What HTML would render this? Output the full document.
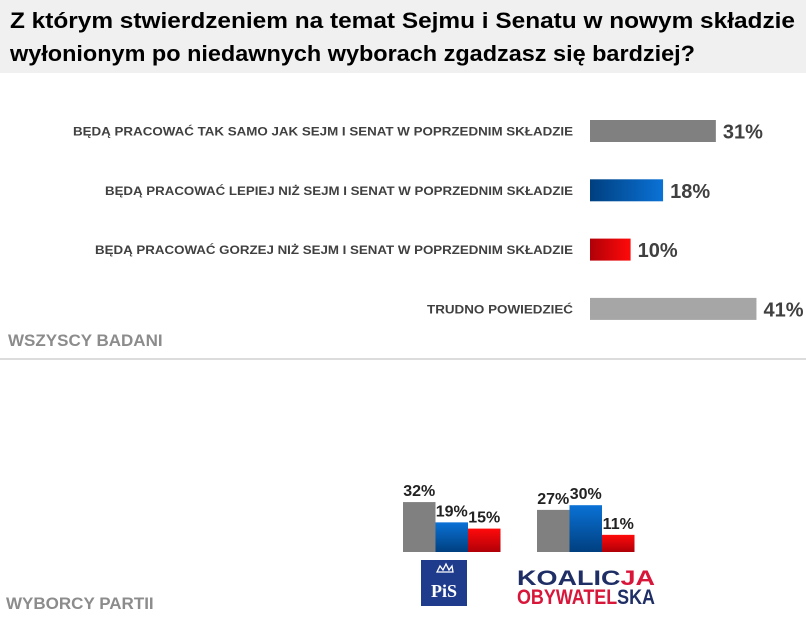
<!DOCTYPE html>
<html><head><meta charset="utf-8"><style>
html,body{margin:0;padding:0;background:#fff;}
svg{display:block;font-family:"Liberation Sans",sans-serif;}
</style></head><body>
<svg id="chart" width="806" height="618" viewBox="0 0 806 618" xmlns="http://www.w3.org/2000/svg">
<defs>
<linearGradient id="gBlue" x1="0" x2="1" y1="0" y2="0"><stop offset="0" stop-color="#003f7f"/><stop offset="1" stop-color="#0a72d6"/></linearGradient>
<linearGradient id="gRed" x1="0" x2="1" y1="0" y2="0"><stop offset="0" stop-color="#b00008"/><stop offset="1" stop-color="#ff0a0a"/></linearGradient>
<linearGradient id="gBlueV" x1="0" x2="0" y1="0" y2="1"><stop offset="0" stop-color="#0a72d6"/><stop offset="1" stop-color="#003f7f"/></linearGradient>
<linearGradient id="gRedV" x1="0" x2="0" y1="0" y2="1"><stop offset="0" stop-color="#ff0a0a"/><stop offset="1" stop-color="#b00008"/></linearGradient>
</defs>
<rect x="0" y="0" width="806" height="73" fill="#f0f0f0"/>
<text x="10" y="28" font-size="22" font-weight="bold" fill="#000" textLength="785" lengthAdjust="spacingAndGlyphs">Z którym stwierdzeniem na temat Sejmu i Senatu w nowym składzie</text>
<text x="10" y="61" font-size="22" font-weight="bold" fill="#000" textLength="685" lengthAdjust="spacingAndGlyphs">wyłonionym po niedawnych wyborach zgadzasz się bardziej?</text>
<g id="main"></g>
<text x="8" y="346" font-size="17" font-weight="bold" fill="#8c8c8c">WSZYSCY BADANI</text>
<line x1="0" y1="359" x2="806" y2="359" stroke="#d0d0d0" stroke-width="1.5"/>
<text x="6" y="609" font-size="17" font-weight="bold" fill="#8c8c8c">WYBORCY PARTII</text>
<g id="party"></g>
<g>
<rect x="421" y="560" width="46" height="46" fill="#1f3c8c"/>
<text x="444" y="597" font-size="18" font-weight="bold" fill="#fff" text-anchor="middle" font-family="Liberation Serif,serif">PiS</text>
<path d="M437 572 l3 -6 l3 4 l3 -6 l3 6 l3 -4 l1 6 z" fill="none" stroke="#fff" stroke-width="1.3"/>
</g>
<g font-weight="bold" font-size="21">
<text x="517" y="585" fill="#1f2f66" textLength="138" lengthAdjust="spacingAndGlyphs">KOALIC<tspan fill="#d8163a">JA</tspan></text>
<text x="517" y="604" fill="#d8163a" textLength="138" lengthAdjust="spacingAndGlyphs">OBYWATEL<tspan fill="#1f2f66">SKA</tspan></text>
</g>
</svg>
<script>
const categories = ["BĘDĄ PRACOWAĆ TAK SAMO JAK SEJM I SENAT W POPRZEDNIM SKŁADZIE","BĘDĄ PRACOWAĆ LEPIEJ NIŻ SEJM I SENAT W POPRZEDNIM SKŁADZIE","BĘDĄ PRACOWAĆ GORZEJ NIŻ SEJM I SENAT W POPRZEDNIM SKŁADZIE","TRUDNO POWIEDZIEĆ"];
const allValues = [31,18,10,41];
const parties = ["PiS","KO"];
const partySame = [32,27];
const partyBetter = [19,30];
const partyWorse = [15,11];

const NS="http://www.w3.org/2000/svg";
function mk(tag,attrs,parent){const e=document.createElementNS(NS,tag);for(const k in attrs)e.setAttribute(k,attrs[k]);parent.appendChild(e);return e;}
const fills=["#808080","url(#gBlue)","url(#gRed)","#a6a6a6"];
const labelWidths=[500,468,478,146];
const x0=590, pxPer=4.06;
const xs=v=>v*pxPer;
const ys=i=>120+i*59.3;
const main=document.getElementById('main');
categories.forEach((c,i)=>{
  const t=mk('text',{x:573,y:ys(i)+15.5,'font-size':12,'font-weight':'bold',fill:'#404040','text-anchor':'end',textLength:labelWidths[i],lengthAdjust:'spacingAndGlyphs'},main);
  t.textContent=c;
  
  
  const r=mk('rect',{x:x0,y:ys(i),width:xs(allValues[i]),height:22,fill:fills[i]},main);
  
  
  const v=mk('text',{x:x0+xs(allValues[i])+7,y:ys(i)+18.5,'font-size':20,'font-weight':'bold',fill:'#404040'},main);
  v.textContent=allValues[i]+'%';
  
  
});
const party=document.getElementById('party');
const base=552, ph=1.56, bw=32.5;
const groupX=[403,537];
const pf=["#808080","url(#gBlueV)","url(#gRedV)"];
parties.forEach((p,g)=>{
  const vals=[partySame[g],partyBetter[g],partyWorse[g]];
  vals.forEach((v,k)=>{
    const x=groupX[g]+k*bw, h=v*ph;
    const r=mk('rect',{x:x,y:base-h,width:bw,height:h,fill:pf[k]},party);
    
    
    const t=mk('text',{x:x+bw/2,y:base-h-6,'font-size':16,'font-weight':'bold',fill:'#222','text-anchor':'middle'},party);
    t.textContent=v+'%';
    
    
  });
});
</script>
</body></html>
